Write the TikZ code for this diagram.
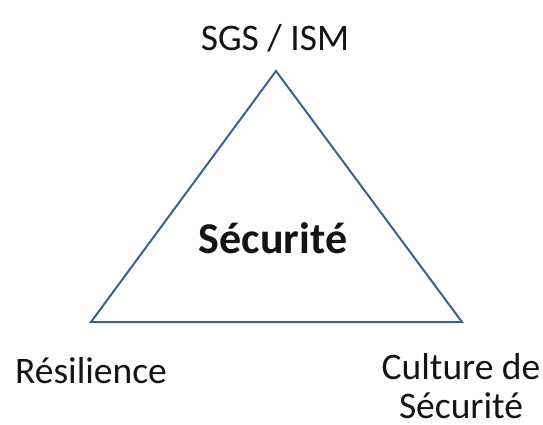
\documentclass[tikz,border=0pt]{standalone}
\usepackage{fontspec}
\setmainfont{Carlito}
\usepackage{tikz}
\definecolor{triblue}{RGB}{60,96,150}
\definecolor{txtgray}{RGB}{20,20,20}

\begin{document}
\begin{tikzpicture}[
    x=1pt,
    y=-1pt,
    corner/.style={text=txtgray, align=center, inner sep=0pt, font=\fontsize{37.5}{39}\selectfont},
    core/.style={text=txtgray, align=center, font=\fontsize{44}{50}\selectfont\bfseries},
    edge/.style={draw=triblue, line width=2pt, line join=miter}
]
\useasboundingbox (0,0) rectangle (543,424);
\coordinate (top) at (276,71);
\coordinate (left) at (91,322);
\coordinate (right) at (462,322);
\draw[edge] (top) -- (left) -- (right) -- cycle;
\node[core] (safety) at (273,238) {Sécurité};
\node[corner] (sgs) at (275,38) {SGS / ISM};
\node[corner] (resil) at (91,371) {Résilience};
\node[corner] (culture) at (461,386) {Culture de\\Sécurité};
\end{tikzpicture}
\end{document}
